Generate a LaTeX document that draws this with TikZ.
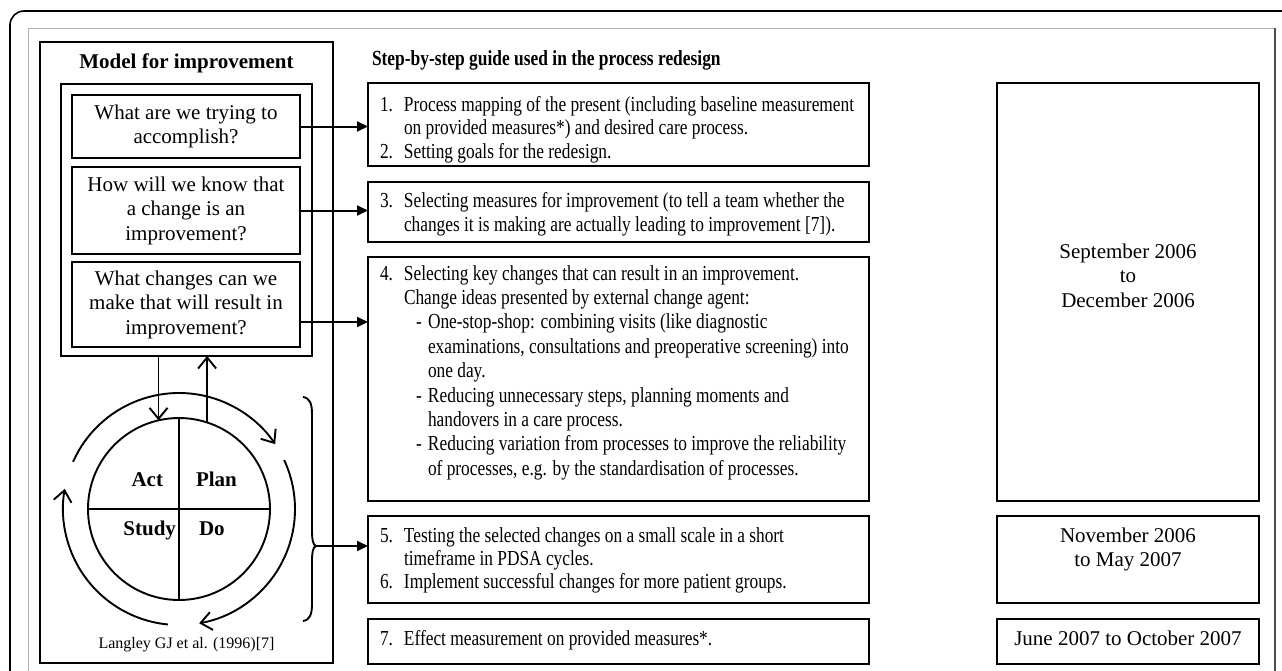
\documentclass[tikz,border=0pt]{standalone}
\usepackage{fontspec}
\setmainfont{Liberation Serif}
\newfontfamily\stepfont[FakeStretch=0.81]{Liberation Serif}
\usetikzlibrary{arrows.meta,calc}
\newcommand{\steptext}[1]{\stepfont\fontsize{21.4}{#1}\selectfont\raggedright\parindent=0pt\parskip=0pt}
\newcommand{\numl}[2]{\makebox[24pt][l]{#1}#2\par}
\newcommand{\contl}[1]{\hspace*{24pt}#1\par}
\newcommand{\dashl}[1]{\hspace*{36pt}\makebox[12pt][l]{-}#1\par}
\newcommand{\dcontl}[1]{\hspace*{48pt}#1\par}
\newcommand{\datefont}{\fontsize{21}{24.5}\selectfont}
\tikzset{
  box/.style={draw, line width=1.9pt, rectangle, inner sep=0pt, outer sep=0pt},
  qbox/.style={box, align=center, font=\fontsize{21}{24.5}\selectfont},
  harr/.style={line width=2pt, -{Triangle[length=11pt,width=10pt]}},
  varr/.style={line width=1.9pt, -{Straight Barb[length=11pt,width=18pt]}},
  pline/.style={line width=1.9pt},
  txt/.style={inner sep=0pt, outer sep=0pt, anchor=base west},
  pdsalbl/.style={inner sep=0pt, outer sep=0pt, font=\bfseries\fontsize{21}{24}\selectfont},
}
\begin{document}
\begin{tikzpicture}[x=1pt,y=-1pt]
\useasboundingbox (0,0) rectangle (1282,670);
\clip (0,0) rectangle (1282,670);
% frames
\draw[line width=1.6pt, rounded corners=14pt] (10,11) rectangle (1320,720);
\draw[gray!60, line width=1pt] (28,28) rectangle (1275,720);
\draw[gray!60!black, line width=2.2pt] (1275,28) -- (1275,720);

% left column
\node[box, minimum width=293pt, minimum height=621pt] (mb) at (186.5,352.5) {};
\node[anchor=base, inner sep=0pt, font=\bfseries\fontsize{21}{24}\selectfont] (mtitle) at (186.5,68) {Model for improvement};
\node[box, minimum width=251pt, minimum height=272pt] (qc) at (186.5,220) {};
\node[qbox, minimum width=228pt, minimum height=63pt] (q1) at (186,126.5) {What are we trying to\\accomplish?};
\node[qbox, minimum width=228pt, minimum height=87pt] (q2) at (186,210.5) {How will we know that\\a change is an\\improvement?};
\node[qbox, minimum width=228pt, minimum height=85pt] (q3) at (186,304.5) {What changes can we\\make that will result in\\improvement?};

% PDSA
\node[circle, draw, pline, minimum size=182pt, inner sep=0pt, outer sep=0pt] (pdsa) at (179,509) {};
\draw[pline] (pdsa.north) -- (pdsa.south);
\draw[pline] (pdsa.west) -- (pdsa.east);
\node[pdsalbl, anchor=base east] (act) at (163,486) {Act};
\node[pdsalbl, anchor=base west] (plan) at (196,486) {Plan};
\node[pdsalbl, anchor=base east] (study) at (176,535) {Study};
\node[pdsalbl, anchor=base west] (do) at (199,535) {Do};
\draw[varr] ($(pdsa.center)+(-156:116)$) arc[start angle=-156, end angle=-34, radius=116];
\draw[varr] ($(pdsa.center)+(-25:116)$) arc[start angle=-25, end angle=80, radius=116];
\draw[varr] ($(pdsa.center)+(95.5:116)$) arc[start angle=95.5, end angle=190, radius=116];
\draw[varr] (qc.south -| pdsa.103) -- (pdsa.103);
\draw[varr] (pdsa.72) -- (pdsa.72 |- qc.south);
\node[anchor=base, inner sep=0pt, font=\fontsize{16}{19}\selectfont] (ref) at (186.5,648) {Langley GJ et al. (1996)[7]};

% brace
\draw[pline] (303,397) .. controls (310,398) and (312,404) .. (312,414) -- (312,530)
  .. controls (312,540) and (313,545) .. (316,546)
  .. controls (313,547) and (312,552) .. (312,562) -- (312,604)
  .. controls (312,614) and (310,620) .. (303,621);
\coordinate (btip) at (316,546);

% step boxes
\node[txt, font=\stepfont\bfseries\fontsize{21.5}{24}\selectfont] (stitle) at (372,65) {Step-by-step guide used in the process redesign};
\node[box, minimum width=501pt, minimum height=83pt] (s1) at (618.5,124.5) {};
\node[box, minimum width=501pt, minimum height=60pt] (s3) at (618.5,212) {};
\node[box, minimum width=501pt, minimum height=244pt] (s4) at (618.5,379) {};
\node[box, minimum width=501pt, minimum height=87pt] (s5) at (618.5,559.5) {};
\node[box, minimum width=501pt, minimum height=45pt] (s7) at (618.5,641.5) {};

\node[txt] (t1) at (380,111) {\parbox[t]{485pt}{\steptext{23.5}%
\numl{1.}{Process mapping of the present (including baseline measurement}
\contl{on provided measures*) and desired care process.}
\numl{2.}{Setting goals for the redesign.}}};
\node[txt] (t3) at (380,207) {\parbox[t]{485pt}{\steptext{24.5}%
\numl{3.}{Selecting measures for improvement (to tell a team whether the}
\contl{changes it is making are actually leading to improvement [7]).}}};
\node[txt] (t4) at (380,280) {\parbox[t]{485pt}{\steptext{24.4}%
\numl{4.}{Selecting key changes that can result in an improvement.}
\contl{Change ideas presented by external change agent:}
\dashl{One-stop-shop: combining visits (like diagnostic}
\dcontl{examinations, consultations and preoperative screening) into}
\dcontl{one day.}
\dashl{Reducing unnecessary steps, planning moments and}
\dcontl{handovers in a care process.}
\dashl{Reducing variation from processes to improve the reliability}
\dcontl{of processes, e.g. by the standardisation of processes.}}};
\node[txt] (t5) at (380,542) {\parbox[t]{485pt}{\steptext{23}%
\numl{5.}{Testing the selected changes on a small scale in a short}
\contl{timeframe in PDSA cycles.}
\numl{6.}{Implement successful changes for more patient groups.}}};
\node[txt] (t7) at (380,645) {\parbox[t]{485pt}{\steptext{24}%
\numl{7.}{Effect measurement on provided measures*.}}};

% date boxes
\node[box, minimum width=262pt, minimum height=418pt] (d1) at (1128,292) {};
\node[box, minimum width=262pt, minimum height=87pt] (d2) at (1128,559.5) {};
\node[box, minimum width=262pt, minimum height=45pt] (d3) at (1128,641.5) {};
\node[txt, anchor=base] (dt1) at (1128,258) {\parbox[t]{250pt}{\centering\datefont September 2006\par to\par December 2006}};
\node[txt, anchor=base] (dt2) at (1128,542) {\parbox[t]{250pt}{\centering\datefont November 2006\par to May 2007}};
\node[txt, anchor=base] (dt3) at (1128,645) {\parbox[t]{250pt}{\centering\datefont June 2007 to October 2007}};

% connectors
\draw[harr] (q1.east) -- (q1.east -| s1.west);
\draw[harr] (q2.east) -- (q2.east -| s3.west);
\coordinate (a3) at ($(q3.east)+(0,17.5)$);
\draw[harr] (a3) -- (a3 -| s4.west);
\draw[harr] (btip) -- (btip -| s5.west);
\end{tikzpicture}
\end{document}
